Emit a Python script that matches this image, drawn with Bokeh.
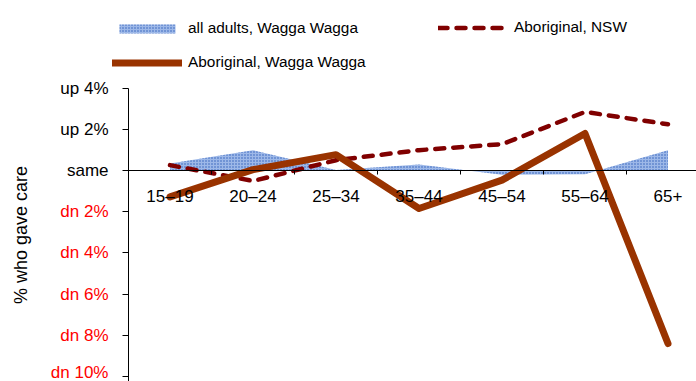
from bokeh.plotting import figure
from bokeh.models import (ColumnDataSource, Range1d, LinearAxis, FixedTicker,
                          Legend, LegendItem)
from bokeh.embed import file_html
from bokeh.resources import INLINE

# ---- data ----
categories = ["15\u201319", "20\u201324", "25\u201334", "35\u201344", "45\u201354", "55\u201364", "65+"]
all_adults_wagga = [0.35, 1.0, 0.03, 0.3, -0.2, -0.17, 1.0]
aboriginal_nsw = [0.27, -0.5, 0.51, 1.0, 1.29, 2.86, 2.26]
aboriginal_wagga = [-1.27, 0.05, 0.78, -1.84, -0.46, 1.81, -8.41]

y_ticks = [4, 2, 0, -2, -4, -6, -8, -10]
y_labels_pos = {4: "up 4%", 2: "up 2%", 0: "same"}
y_labels_neg = {-2: "dn 2%", -4: "dn 4%", -6: "dn 6%", -8: "dn 8%", -10: "dn 10%"}

xs = [i + 0.5 for i in range(len(categories))]
src = ColumnDataSource(dict(x=xs, adults=all_adults_wagga, nsw=aboriginal_nsw,
                            wagga=aboriginal_wagga, zero=[0] * len(xs)))

FONT = "Liberation Sans"
W, H = 696, 381
X0_PX, PX_PER_CAT = 128, 83.0        # y-axis position and category width (pixels)
Y4_PX, PX_PER_PCT = 88, 20.55         # top tick position and scale (pixels)

x_start = -X0_PX / PX_PER_CAT
x_end = (W - X0_PX) / PX_PER_CAT
y_top = 4 + Y4_PX / PX_PER_PCT
y_bot = 4 - (H - Y4_PX) / PX_PER_PCT

p = figure(width=W, height=H, output_backend="svg", toolbar_location=None,
           x_range=Range1d(x_start, x_end), y_range=Range1d(y_bot, y_top),
           x_axis_location=None, y_axis_location=None,
           min_border_left=0, min_border_right=0, min_border_top=0,
           min_border_bottom=0, background_fill_color="white",
           border_fill_color="white", outline_line_color=None)
p.grid.visible = False

# series
area = p.varea(x="x", y1="zero", y2="adults", source=src,
               fill_color="#9db8e8", hatch_pattern="dot", hatch_color="#2f5fb8",
               hatch_scale=3, hatch_weight=1.5)
nsw = p.line(x="x", y="nsw", source=src, line_color="#800000", line_width=4.5,
             line_dash="9 9", line_cap="round", line_join="round")
wag = p.line(x="x", y="wagga", source=src, line_color="#993300", line_width=7,
             line_cap="round", line_join="round")

# x axis at zero
xa = LinearAxis(fixed_location=0, bounds=(0, x_end),
                ticker=FixedTicker(ticks=xs, minor_ticks=list(range(1, 8))),
                major_label_overrides={x: c for x, c in zip(xs, categories)},
                major_tick_out=0, major_tick_in=0, minor_tick_out=4, minor_tick_in=0,
                minor_tick_line_color="black", axis_line_color="black",
                major_label_standoff=12, major_label_text_font=FONT,
                major_label_text_font_size="17px", major_label_text_color="black")
p.add_layout(xa, "below")

# y axis (black labels)
ya = LinearAxis(fixed_location=0, bounds=(y_bot, 4),
                ticker=FixedTicker(ticks=y_ticks, minor_ticks=[]),
                major_label_overrides={t: y_labels_pos.get(t, "") for t in y_ticks},
                major_tick_out=6, major_tick_in=0, major_tick_line_color="black",
                axis_line_color="black", major_label_standoff=14,
                major_label_text_font=FONT, major_label_text_font_size="17px",
                major_label_text_color="black")
p.add_layout(ya, "left")

# y axis (red labels for decreases)
ya2 = LinearAxis(fixed_location=0, bounds=(y_bot, 4),
                 ticker=FixedTicker(ticks=y_ticks, minor_ticks=[]),
                 major_label_overrides={t: y_labels_neg.get(t, "") for t in y_ticks},
                 major_tick_out=6, major_tick_in=0, major_tick_line_color=None,
                 axis_line_color=None, major_label_standoff=14,
                 major_label_text_font=FONT, major_label_text_font_size="17px",
                 major_label_text_color="#ff0000",
                 axis_label="% who gave care", axis_label_standoff=17,
                 axis_label_text_font=FONT, axis_label_text_font_size="18px",
                 axis_label_text_font_style="normal", axis_label_text_color="black")
p.add_layout(ya2, "left")

# legends
common = dict(border_line_color=None, background_fill_alpha=0, padding=0, margin=0,
              glyph_width=70, glyph_height=11, label_standoff=6,
              label_text_font=FONT, label_text_font_size="15.4px",
              label_text_color="black")
leg1 = Legend(items=[LegendItem(label="all adults, Wagga Wagga", renderers=[area]),
                     LegendItem(label="Aboriginal, Wagga Wagga", renderers=[wag])],
              location=(112, 310), spacing=16, **common)
leg2 = Legend(items=[LegendItem(label="Aboriginal, NSW", renderers=[nsw])],
              location=(438, 345), **common)
p.add_layout(leg1, "center")
p.add_layout(leg2, "center")

open("out.html", "w").write(file_html(p, INLINE))
